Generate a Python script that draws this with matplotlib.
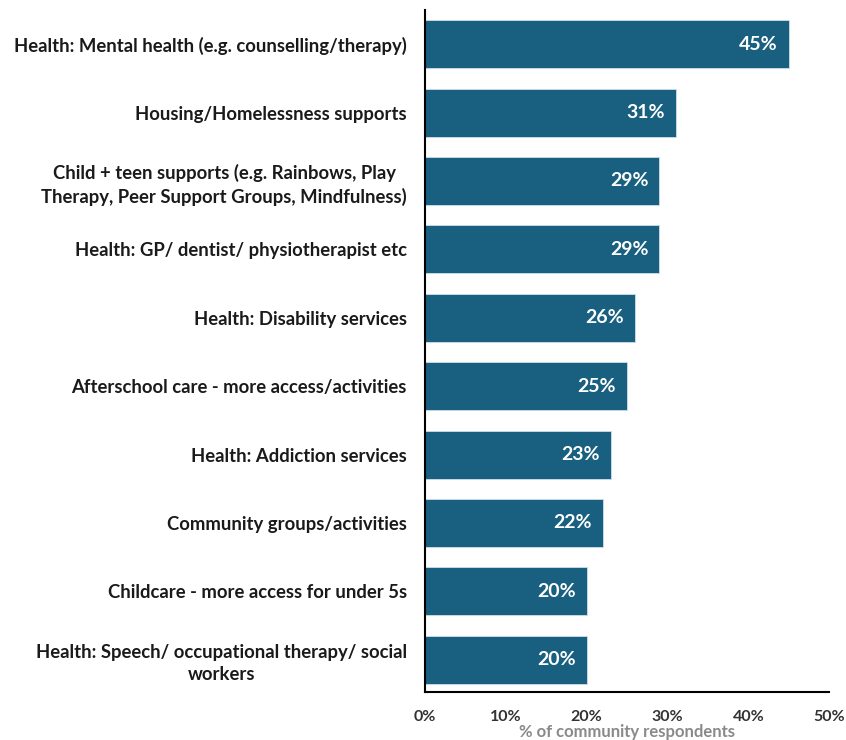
import matplotlib
matplotlib.use("Agg")
import matplotlib.pyplot as plt
from matplotlib.ticker import PercentFormatter

plt.rcParams['font.family'] = ['Lato', 'DejaVu Sans']

categories = [
    "Health: Mental health (e.g. counselling/therapy)",
    "Housing/Homelessness supports",
    "Child + teen supports (e.g. Rainbows, Play\nTherapy, Peer Support Groups, Mindfulness)",
    "Health: GP/ dentist/ physiotherapist etc",
    "Health: Disability services",
    "Afterschool care - more access/activities",
    "Health: Addiction services",
    "Community groups/activities",
    "Childcare - more access for under 5s",
    "Health: Speech/ occupational therapy/ social\nworkers",
]
values = [45, 31, 29, 29, 26, 25, 23, 22, 20, 20]
xticks = [0, 10, 20, 30, 40, 50]

BAR = "#185f80"

fig = plt.figure(figsize=(8.46, 7.4), dpi=100)
ax = fig.add_axes([0.5024, 0.065, 0.4776, 0.9215])

ypos = list(range(len(categories)))
ax.barh(ypos, values, height=0.70, color=BAR, edgecolor="#cfe0ea", linewidth=0.6)
for y, v in zip(ypos, values):
    ax.text(v - 1.35, y, f"{v}%", ha="right", va="center", color="white",
            fontsize=14, fontweight="bold")

ax.set_yticks(ypos)
ax.set_yticklabels(categories, fontsize=13.3, fontweight="bold", color="#1a1a1a",
                   multialignment="center", linespacing=1.35)
ax.set_ylim(9.47, -0.5)
ax.set_xlim(0, 50)
ax.set_xticks(xticks)
ax.xaxis.set_major_formatter(PercentFormatter(decimals=0))
for lbl in ax.get_xticklabels():
    lbl.set_fontweight("bold")
    lbl.set_fontsize(11.5)
    lbl.set_color("#333333")
ax.tick_params(axis="both", length=0)
ax.tick_params(axis="y", pad=13)
ax.tick_params(axis="x", pad=13)
ax.set_xlabel("% of community respondents", fontsize=12, fontweight="bold",
              color="#8a8a8a", labelpad=0)

for s in ("top", "right"):
    ax.spines[s].set_visible(False)
ax.spines["left"].set_linewidth(1.5)
ax.spines["bottom"].set_linewidth(1.5)

fig.savefig("out.png", dpi=100)
